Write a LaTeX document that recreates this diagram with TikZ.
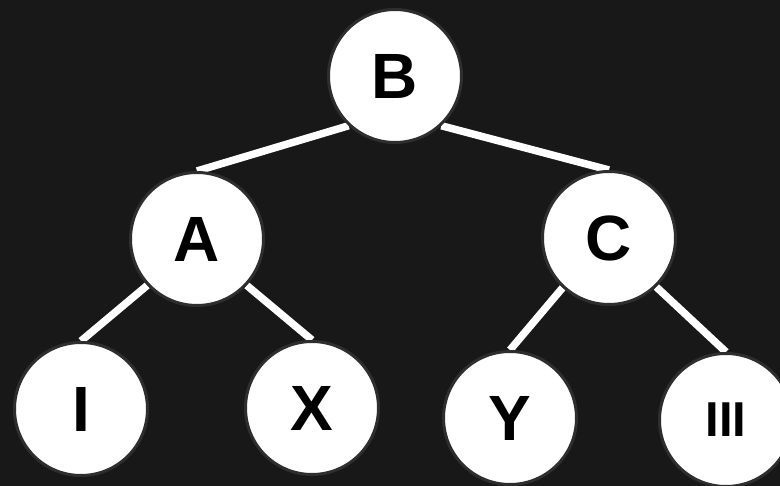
\documentclass[tikz,border=0pt]{standalone}
\usepackage{fontspec}
\setmainfont{Liberation Sans}
\usetikzlibrary{backgrounds}
\definecolor{bg}{HTML}{181818}
\definecolor{rim}{HTML}{2E2E2E}
\begin{document}
\begin{tikzpicture}[x=1pt,y=-1pt,
  treenode/.style={circle, fill=white, draw=rim, line width=3pt,
    minimum size=133pt, inner sep=0pt,
    font=\fontsize{64}{64}\selectfont\bfseries},
  edge/.style={draw=white, line width=7.5pt}]
  \path[use as bounding box] (0,0) rectangle (780,486);

  % tree nodes
  \node[treenode] (B) at (395,76) {B};
  \node[treenode] (A) at (197,239) {A};
  \node[treenode] (C) at (609,238) {C};
  \node[treenode] (I) at (81,409) {I};
  \node[treenode] (X) at (312,408) {X};
  \node[treenode] (Y) at (510,418) {Y};
  \node[treenode, font=\fontsize{49}{49}\selectfont\bfseries] (III) at (726,420) {III};

  \begin{scope}[on background layer]
    \fill[bg] (0,0) rectangle (780,486);
    % branches, drawn beneath the circles
    \draw[edge] (B.227) -- (A.north);
    \draw[edge] (B.313) -- (C.north);
    \draw[edge] (A.223) -- (I.north);
    \draw[edge] (A.317) -- (X.north);
    \draw[edge] (C.227) -- (Y.north);
    \draw[edge] (C.314) -- (III.north);
  \end{scope}
\end{tikzpicture}
\end{document}
